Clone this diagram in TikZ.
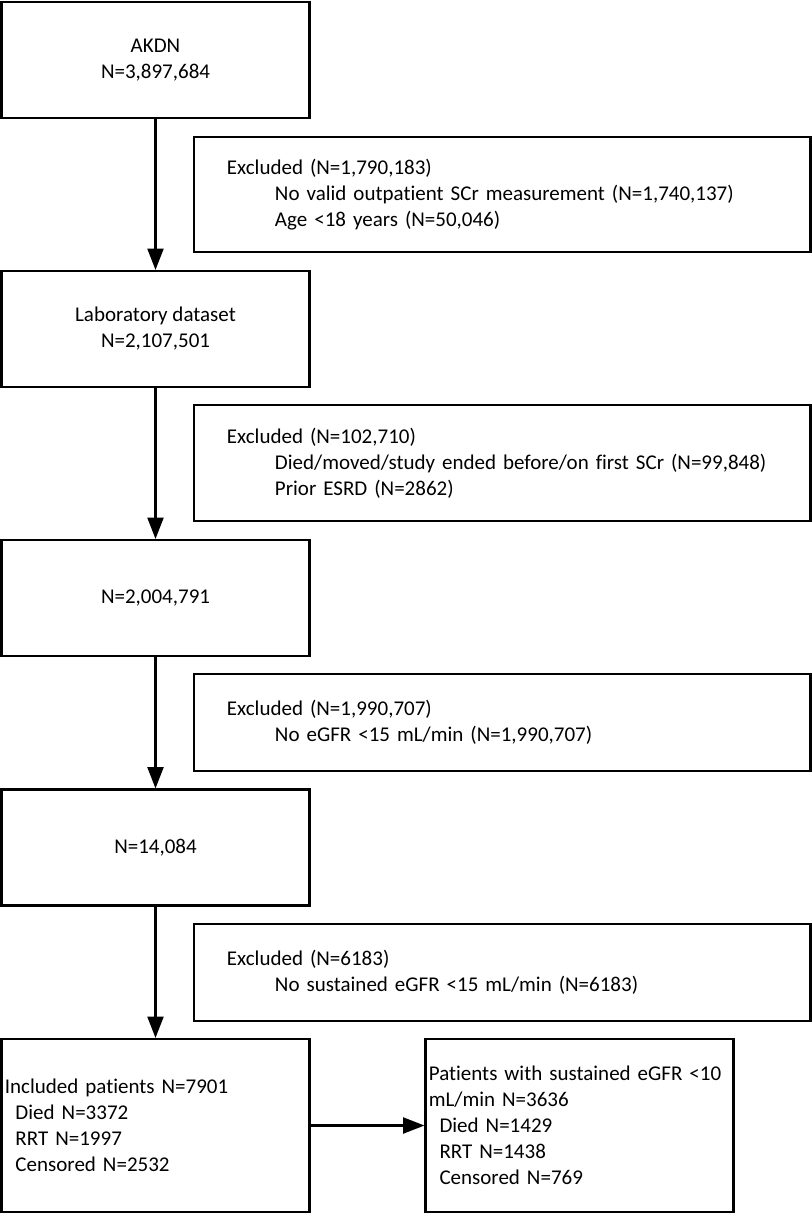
\documentclass[tikz,border=0pt]{standalone}
\usepackage{fontspec}
\setmainfont{Carlito}[Ligatures={NoCommon}]
\usetikzlibrary{arrows.meta}
\newcommand{\subline}{\hspace*{36pt}}
\newcommand{\outcome}{\hspace*{8pt}}

\begin{document}
\begin{tikzpicture}[x=0.75pt,y=-0.75pt,line width=1.6pt,
    >={Triangle[length=16pt,width=12pt]},
    every node/.style={font=\fontsize{15.75pt}{19.5pt}\selectfont},
    mainbox/.style={draw,minimum width=231pt,minimum height=87pt,align=center,inner sep=0pt},
    exclbox/.style={draw,minimum width=462.4pt,text width=412.9pt,inner xsep=24.75pt,align=left},
    endbox/.style={draw,minimum height=129.75pt,text width=226pt,inner xsep=2.5pt,align=left}]
        \useasboundingbox (0,0) rectangle (812,1214);
        % main column
        \node[mainbox] (akdn) at (155.5,60) {AKDN\\N=3,897,684};
        \node[mainbox] (lab) at (155.5,329) {Laboratory dataset\\N=2,107,501};
        \node[mainbox] (scr) at (155.5,598) {N=2,004,791};
        \node[mainbox] (egfr) at (155.5,847.5) {N=14,084};
        \node[endbox] (incl) at (155.5,1125.5)
          {Included patients N=7901\\ \outcome Died N=3372\\ \outcome RRT N=1997\\ \outcome Censored N=2532};
        \node[endbox] (sust) at (579.5,1125.5)
          {Patients with sustained eGFR <10\\mL/min N=3636\\ \outcome Died N=1429\\ \outcome RRT N=1438\\ \outcome Censored N=769};
        % exclusions
        \node[exclbox,minimum height=86.25pt] (excla) at (502.25,194.5)
          {Excluded (N=1,790,183)\\ \subline No valid outpatient SCr measurement (N=1,740,137)\\ \subline Age <18 years (N=50,046)};
        \node[exclbox,minimum height=87pt] (exclb) at (502.25,463)
          {Excluded (N=102,710)\\ \subline Died/moved/study ended before/on first SCr (N=99,848)\\ \subline Prior ESRD (N=2862)};
        \node[exclbox,minimum height=72.75pt] (exclc) at (502.25,722.5)
          {Excluded (N=1,990,707)\\ \subline No eGFR <15 mL/min (N=1,990,707)};
        \node[exclbox,minimum height=72.75pt] (excld) at (502.25,972.5)
          {Excluded (N=6183)\\ \subline No sustained eGFR <15 mL/min (N=6183)};
        % flow
        \draw[->] (akdn) -- (lab);
        \draw[->] (lab) -- (scr);
        \draw[->] (scr) -- (egfr);
        \draw[->] (egfr) -- (incl);
        \draw[->] (incl) -- (sust);
      \end{tikzpicture}
\end{document}
